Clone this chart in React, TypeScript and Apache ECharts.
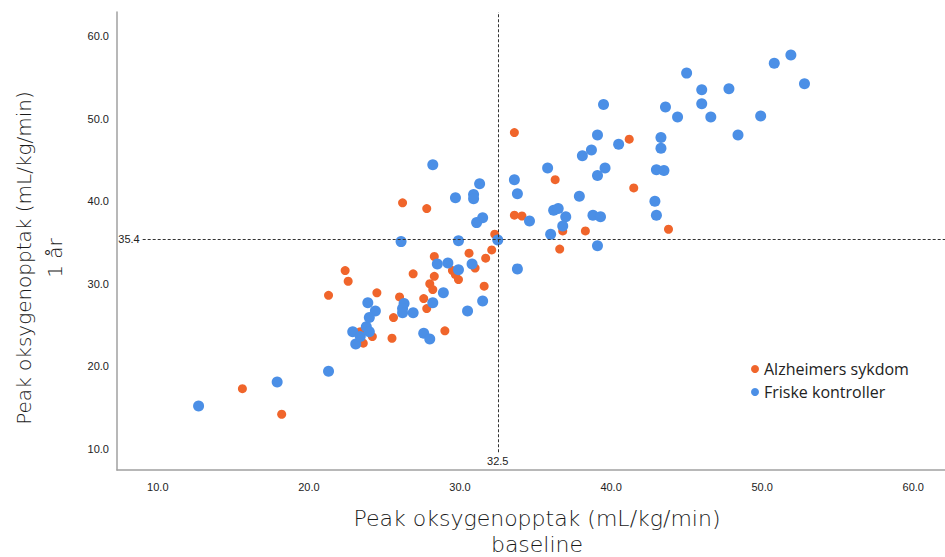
import { useEffect, useRef } from "react";
import * as echarts from "echarts";

// Alzheimers sykdom: baseline (x) and 1 år (y)
const alzBaseline = [
  15.6, 18.2, 21.3, 22.4, 22.6, 24.5, 23.4, 24.2, 23.6, 25.5, 25.6, 26.0, 26.2, 26.9,
  27.8, 27.6, 27.8, 28.0, 28.2, 28.3, 28.3, 29.0, 29.5, 29.7, 29.9, 30.6, 31.0, 31.6,
  31.7, 32.1, 32.3, 33.6, 33.6, 34.1, 36.3, 36.8, 36.6, 38.3, 41.2, 41.5, 43.8,
];
const alzYear1 = [
  17.3, 14.2, 28.6, 31.6, 30.3, 28.9, 24.2, 23.6, 22.8, 23.4, 25.9, 28.4, 39.8, 31.2,
  39.1, 28.2, 27.0, 30.0, 29.3, 30.9, 33.3, 24.3, 31.6, 31.1, 30.5, 33.7, 31.9, 29.7,
  33.1, 34.1, 36.0, 48.3, 38.3, 38.2, 42.6, 36.4, 34.2, 36.4, 47.5, 41.6, 36.6,
];

// Friske kontroller: baseline (x) and 1 år (y)
const ctrlBaseline = [
  12.7, 17.9, 21.3, 22.9, 23.1, 23.4, 23.8, 24.0, 23.9, 24.4, 24.0, 26.1, 26.3, 26.2,
  26.2, 26.9, 27.6, 28.0, 28.2, 28.9, 28.5, 29.2, 29.9, 30.8, 30.5, 31.5, 29.9, 32.5,
  28.2, 29.7, 30.9, 30.9, 31.3, 31.5, 31.1, 33.6, 33.8, 33.8, 34.6, 35.8, 36.2, 36.5,
  37.0, 36.8, 36.0, 37.9, 38.1, 38.7, 39.1, 39.5, 40.5, 39.1, 39.6, 38.8, 39.3, 39.1,
  43.0, 43.5, 43.3, 43.3, 43.6, 44.4, 42.9, 43.0, 45.0, 46.0, 46.0, 46.6, 47.8, 49.9,
  48.4, 50.8, 51.9, 52.8,
];
const ctrlYear1 = [
  15.2, 18.1, 19.4, 24.2, 22.7, 23.6, 24.8, 24.2, 27.7, 26.7, 25.9, 35.1, 27.6, 27.0,
  26.5, 26.5, 24.0, 23.3, 27.7, 28.9, 32.4, 32.5, 31.7, 32.4, 26.7, 27.9, 35.2, 35.3,
  44.4, 40.4, 40.8, 40.3, 42.1, 38.0, 37.4, 42.6, 40.9, 31.8, 37.6, 44.0, 38.9, 39.1,
  38.1, 37.0, 36.0, 40.6, 45.5, 46.2, 48.0, 51.7, 46.9, 43.1, 44.0, 38.3, 38.1, 34.6,
  43.8, 43.7, 47.7, 46.4, 51.4, 50.2, 40.0, 38.3, 55.5, 53.5, 51.8, 50.2, 53.6, 50.3,
  48.0, 56.7, 57.7, 54.2,
];

const seriesNames = ["Alzheimers sykdom", "Friske kontroller"];
const xTickValues = [10, 20, 30, 40, 50, 60];
const yTickValues = [10, 20, 30, 40, 50, 60];
const refX = 32.5;
const refY = 35.4;

const xName = "Peak oksygenopptak (mL/kg/min)\nbaseline";
const yName = "Peak oksygenopptak (mL/kg/min)\n1 år";

export default function App() {
  const ref = useRef<HTMLDivElement>(null);

  useEffect(() => {
    if (!ref.current) return;
    const chart = echarts.init(ref.current, null, { renderer: "svg" });
    const zip = (a: number[], b: number[]) => a.map((v, i) => [v, b[i]]);

    const xMin = 7.3;
    const xMax = 62.1;
    const yMin = 7.45;
    const yMax = 62.9;
    const hLineStart = 9.0;
    const vLineStart = 9.6;

    const axisLineStyle = { color: "#a0a0a0", width: 1.5 };
    const tickFont = {
      fontFamily: "'Liberation Sans Narrow', 'Liberation Sans', Arial, sans-serif",
      fontSize: 11,
      color: "#222",
    };
    const nameFont = {
      fontFamily: "'DejaVu Sans', sans-serif",
      fontWeight: 300,
      color: "#1a1a1a",
    };
    const dashStyle = { color: "#333", width: 1, type: [3, 2] as number[] };

    chart.setOption({
      animation: false,
      backgroundColor: "#fff",
      grid: {
        left: 117,
        right: 0,
        top: 12,
        bottom: 87,
        containLabel: false,
        outerBoundsMode: "none",
      },
      legend: {
        orient: "vertical",
        left: 746,
        top: 356,
        itemWidth: 8,
        itemHeight: 8,
        itemGap: 7,
        icon: "circle",
        textStyle: {
          fontFamily: "'Open Sans', sans-serif",
          fontSize: 16,
          color: "#222",
        },
        data: seriesNames,
      },
      xAxis: {
        type: "value",
        min: xMin,
        max: xMax,
        splitLine: { show: false },
        axisTick: { show: false },
        axisLine: { show: true, onZero: false, lineStyle: axisLineStyle },
        axisLabel: {
          customValues: xTickValues,
          formatter: (v: number) => v.toFixed(1),
          margin: 11,
          ...tickFont,
        },
        name: xName,
        nameLocation: "middle",
        nameGap: 35,
        nameTextStyle: {
          ...nameFont,
          fontSize: 22,
          lineHeight: 26,
          padding: [0, 0, 0, 12],
        },
      },
      yAxis: {
        type: "value",
        min: yMin,
        max: yMax,
        splitLine: { show: false },
        axisTick: { show: false },
        axisLine: { show: true, onZero: false, lineStyle: axisLineStyle },
        axisLabel: {
          customValues: yTickValues,
          formatter: (v: number) => v.toFixed(1),
          margin: 8,
          ...tickFont,
        },
        name: yName,
        nameLocation: "middle",
        nameGap: 47,
        nameTextStyle: {
          ...nameFont,
          fontSize: 20,
          lineHeight: 31,
          padding: [0, 34, 0, 0],
        },
      },
      series: [
        {
          name: seriesNames[0],
          type: "scatter",
          data: zip(alzBaseline, alzYear1),
          symbolSize: 9,
          itemStyle: { color: "#f0652b", opacity: 1 },
        },
        {
          name: seriesNames[1],
          type: "scatter",
          data: zip(ctrlBaseline, ctrlYear1),
          symbolSize: 11,
          itemStyle: { color: "#4b8fe6", opacity: 1 },
          markLine: {
            silent: true,
            symbol: ["none", "none"],
            lineStyle: dashStyle,
            label: { ...tickFont, distance: 3 },
            data: [
              [
                {
                  coord: [refX, vLineStart],
                  label: { position: "start", formatter: refX.toFixed(1) },
                },
                { coord: [refX, yMax] },
              ],
              [
                {
                  coord: [hLineStart, refY],
                  label: { position: "start", formatter: refY.toFixed(1) },
                },
                { coord: [xMax, refY] },
              ],
            ],
          },
        },
      ],
    });

    return () => chart.dispose();
  }, []);

  return (
    <div
      ref={ref}
      style={{ position: "fixed", left: 0, top: 0, width: 945, height: 557 }}
    />
  );
}
